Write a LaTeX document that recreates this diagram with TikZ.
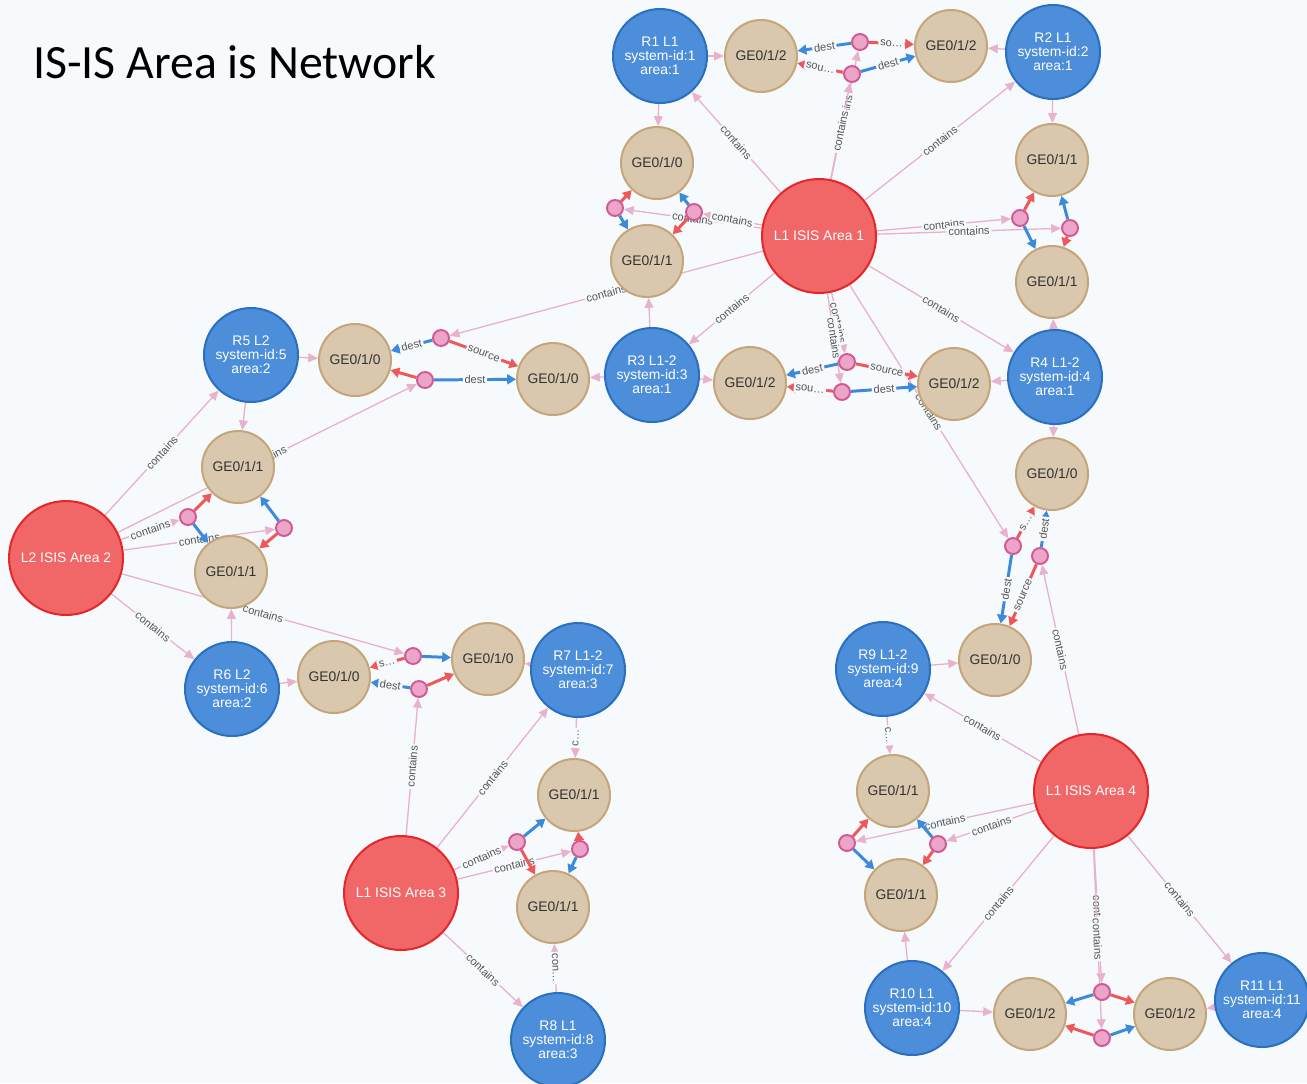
\documentclass[tikz,border=0pt]{standalone}
\usepackage{fontspec}
\usetikzlibrary{arrows.meta}
\newfontfamily\labelsans{Liberation Sans}
\newfontfamily\titlesans{Carlito}
\newcommand\nodetext{\labelsans\fontsize{7.9}{7.9}\selectfont}
\newcommand\edgetext{\labelsans\fontsize{6.3}{6.3}\selectfont}
\definecolor{canvas}{RGB}{247,250,253}
\definecolor{areaFill}{RGB}{241,102,103}
\definecolor{areaLine}{RGB}{226,40,43}
\definecolor{rtFill}{RGB}{76,142,218}
\definecolor{rtLine}{RGB}{42,111,192}
\definecolor{ptFill}{RGB}{217,200,174}
\definecolor{ptLine}{RGB}{196,166,122}
\definecolor{ptText}{RGB}{50,50,50}
\definecolor{lkFill}{RGB}{236,165,200}
\definecolor{lkLine}{RGB}{208,88,148}
\definecolor{relC}{RGB}{232,178,204}
\definecolor{srcC}{RGB}{238,88,88}
\definecolor{dstC}{RGB}{60,138,220}
\definecolor{labC}{RGB}{85,85,85}
\pgfdeclarelayer{back}
\pgfdeclarelayer{wires}
\pgfsetlayers{back,wires,main}
\tikzset{
  area/.style={circle, fill=areaFill, draw=areaLine, line width=1.15pt,
    minimum size=2.28cm, inner sep=0pt, text=white, font=\nodetext},
  router/.style={circle, fill=rtFill, draw=rtLine, line width=1.15pt,
    minimum size=1.88cm, inner sep=0pt, text=white, font=\nodetext, align=center},
  port/.style={circle, fill=ptFill, draw=ptLine, line width=1.15pt,
    minimum size=1.44cm, inner sep=0pt, text=ptText, font=\nodetext},
  link/.style={circle, fill=lkFill, draw=lkLine, line width=1.1pt,
    minimum size=0.32cm, inner sep=0pt},
  rel/.style={draw=relC, line width=0.75pt, -{Triangle[length=5.6pt,width=5pt]}},
  src/.style={draw=srcC, line width=1.7pt, -{Triangle[length=5pt,width=5.6pt]}},
  dst/.style={draw=dstC, line width=1.7pt, -{Triangle[length=5pt,width=5.6pt]}},
  elab/.style={font=\edgetext, text=labC, fill=canvas, inner sep=1pt, sloped}
}
\begin{document}
\begin{tikzpicture}[x=0.02cm, y=-0.02cm]
\begin{pgfonlayer}{back}
  \fill[canvas] (0,0) rectangle (1307,1083);
\end{pgfonlayer}
\useasboundingbox (0,0) rectangle (1307,1083);
\clip (0,0) rectangle (1307,1083);

\node[anchor=base west, inner sep=0pt, font=\titlesans\fontsize{27.2}{31}\selectfont] (title) at (33,78) {IS-IS Area is Network};

% areas
\node[area] (A1) at (819,236) {L1 ISIS Area 1};
\node[area] (A2) at (66,558) {L2 ISIS Area 2};
\node[area] (A3) at (401,893) {L1 ISIS Area 3};
\node[area] (A4) at (1091,791) {L1 ISIS Area 4};

% routers
\node[router] (R1) at (660,56) {R1 L1\\system-id:1\\area:1};
\node[router] (R2) at (1053,52) {R2 L1\\system-id:2\\area:1};
\node[router] (R3) at (652,375) {R3 L1-2\\system-id:3\\area:1};
\node[router] (R4) at (1055,377) {R4 L1-2\\system-id:4\\area:1};
\node[router] (R5) at (251,355) {R5 L2\\system-id:5\\area:2};
\node[router] (R6) at (232,689) {R6 L2\\system-id:6\\area:2};
\node[router] (R7) at (578,670) {R7 L1-2\\system-id:7\\area:3};
\node[router] (R8) at (558,1040) {R8 L1\\system-id:8\\area:3};
\node[router] (R9) at (883,669) {R9 L1-2\\system-id:9\\area:4};
\node[router] (R10) at (912,1008) {R10 L1\\system-id:10\\area:4};
\node[router] (R11) at (1262,1000) {R11 L1\\system-id:11\\area:4};

% interfaces
\node[port] (g1) at (761,56) {GE0/1/2};
\node[port] (g2) at (951,46) {GE0/1/2};
\node[port] (g3) at (657,163) {GE0/1/0};
\node[port] (g4) at (647,261) {GE0/1/1};
\node[port] (g5) at (1052,160) {GE0/1/1};
\node[port] (g6) at (1052,282) {GE0/1/1};
\node[port] (g7) at (750,383) {GE0/1/2};
\node[port] (g8) at (954,384) {GE0/1/2};
\node[port] (g9) at (1052,474) {GE0/1/0};
\node[port] (g10) at (553,379) {GE0/1/0};
\node[port] (g11) at (355,360) {GE0/1/0};
\node[port] (g12) at (238,467) {GE0/1/1};
\node[port] (g13) at (231,572) {GE0/1/1};
\node[port] (g14) at (334,677) {GE0/1/0};
\node[port] (g15) at (488,659) {GE0/1/0};
\node[port] (g16) at (574,795) {GE0/1/1};
\node[port] (g17) at (553,907) {GE0/1/1};
\node[port] (g18) at (995,660) {GE0/1/0};
\node[port] (g19) at (893,791) {GE0/1/1};
\node[port] (g20) at (901,895) {GE0/1/1};
\node[port] (g21) at (1030,1014) {GE0/1/2};
\node[port] (g22) at (1170,1014) {GE0/1/2};

% link nodes
\node[link] (p1a) at (860,42) {};
\node[link] (p1b) at (852,74) {};
\node[link] (p1c) at (615,208) {};
\node[link] (p1d) at (694,212) {};
\node[link] (p1e) at (1020,218) {};
\node[link] (p1f) at (1070,228) {};
\node[link] (p1g) at (847,362) {};
\node[link] (p1h) at (842,392) {};
\node[link] (p2a) at (441,338) {};
\node[link] (p2b) at (425,380) {};
\node[link] (p2c) at (188,517) {};
\node[link] (p2d) at (284,528) {};
\node[link] (p3a) at (413,656) {};
\node[link] (p3b) at (419,689) {};
\node[link] (p3c) at (517,842) {};
\node[link] (p3d) at (580,849) {};
\node[link] (p4a) at (1013,546) {};
\node[link] (p4b) at (1040,556) {};
\node[link] (p4c) at (847,843) {};
\node[link] (p4d) at (938,844) {};
\node[link] (p4e) at (1102,992) {};
\node[link] (p4f) at (1102,1038) {};

\begin{pgfonlayer}{wires}
% area membership
\draw[rel] (A1) -- node[elab]{contains} (R1);
\draw[rel] (A1) -- node[elab]{contains} (R2);
\draw[rel] (A1) -- node[elab]{contains} (R3);
\draw[rel] (A1) -- node[elab]{contains} (R4);
\draw[rel] (A1) -- node[elab]{contains} (p1a);
\draw[rel] (A1) -- node[elab]{contains} (p1b);
\draw[rel] (A1) -- node[elab]{contains} (p1c);
\draw[rel] (A1) -- node[elab]{contains} (p1d);
\draw[rel] (A1) -- node[elab]{contains} (p1e);
\draw[rel] (A1) -- node[elab]{contains} (p1f);
\draw[rel] (A1) -- node[elab]{contains} (p1g);
\draw[rel] (A1) -- node[elab]{contains} (p1h);
\draw[rel] (A1) -- node[elab]{contains} (p2a);
\draw[rel] (A1) -- node[elab]{contains} (p4a);

\draw[rel] (A2) -- node[elab]{contains} (R5);
\draw[rel] (A2) -- node[elab]{contains} (R6);
\draw[rel] (A2) -- node[elab]{contains} (p2b);
\draw[rel] (A2) -- node[elab]{contains} (p2c);
\draw[rel] (A2) -- node[elab]{contains} (p2d);
\draw[rel] (A2) -- node[elab]{contains} (p3a);

\draw[rel] (A3) -- node[elab]{contains} (R7);
\draw[rel] (A3) -- node[elab]{contains} (R8);
\draw[rel] (A3) -- node[elab]{contains} (p3b);
\draw[rel] (A3) -- node[elab]{contains} (p3c);
\draw[rel] (A3) -- node[elab]{contains} (p3d);

\draw[rel] (A4) -- node[elab]{contains} (R9);
\draw[rel] (A4) -- node[elab]{contains} (R10);
\draw[rel] (A4) -- node[elab]{contains} (R11);
\draw[rel] (A4) -- node[elab]{contains} (p4b);
\draw[rel] (A4) -- node[elab]{contains} (p4c);
\draw[rel] (A4) -- node[elab]{contains} (p4d);
\draw[rel] (A4) -- node[elab]{contains} (p4e);
\draw[rel] (A4) -- node[elab]{contains} (p4f);

% router interfaces
\draw[rel] (R1) -- (g1);
\draw[rel] (R1) -- (g3);
\draw[rel] (R2) -- (g2);
\draw[rel] (R2) -- (g5);
\draw[rel] (R3) -- (g4);
\draw[rel] (R3) -- (g7);
\draw[rel] (R3) -- (g10);
\draw[rel] (R4) -- (g6);
\draw[rel] (R4) -- (g8);
\draw[rel] (R4) -- (g9);
\draw[rel] (R5) -- (g11);
\draw[rel] (R5) -- (g12);
\draw[rel] (R6) -- (g13);
\draw[rel] (R6) -- (g14);
\draw[rel] (R7) -- (g15);
\draw[rel] (R7) -- node[elab]{c…} (g16);
\draw[rel] (R8) -- node[elab]{con…} (g17);
\draw[rel] (R9) -- (g18);
\draw[rel] (R9) -- node[elab]{c…} (g19);
\draw[rel] (R10) -- (g20);
\draw[rel] (R10) -- (g21);
\draw[rel] (R11) -- (g22);

% links: source and destination interfaces
\draw[dst] (p1a) -- node[elab]{dest} (g1);
\draw[src] (p1a) -- node[elab]{so…} (g2);
\draw[src] (p1b) -- node[elab]{sou…} (g1);
\draw[dst] (p1b) -- node[elab]{dest} (g2);

\draw[src] (p1c) -- (g3);
\draw[dst] (p1c) -- (g4);
\draw[dst] (p1d) -- (g3);
\draw[src] (p1d) -- (g4);

\draw[src] (p1e) -- (g5);
\draw[dst] (p1e) -- (g6);
\draw[dst] (p1f) -- (g5);
\draw[src] (p1f) -- (g6);

\draw[dst] (p1g) -- node[elab]{dest} (g7);
\draw[src] (p1g) -- node[elab]{source} (g8);
\draw[src] (p1h) -- node[elab]{sou…} (g7);
\draw[dst] (p1h) -- node[elab]{dest} (g8);

\draw[dst] (p2a) -- node[elab]{dest} (g11);
\draw[src] (p2a) -- node[elab]{source} (g10);
\draw[src] (p2b) -- (g11);
\draw[dst] (p2b) -- node[elab]{dest} (g10);

\draw[src] (p2c) -- (g12);
\draw[dst] (p2c) -- (g13);
\draw[dst] (p2d) -- (g12);
\draw[src] (p2d) -- (g13);

\draw[src] (p3a) -- node[elab]{s…} (g14);
\draw[dst] (p3a) -- (g15);
\draw[dst] (p3b) -- node[elab]{dest} (g14);
\draw[src] (p3b) -- (g15);

\draw[dst] (p3c) -- (g16);
\draw[src] (p3c) -- (g17);
\draw[src] (p3d) -- (g16);
\draw[dst] (p3d) -- (g17);

\draw[src] (p4a) -- node[elab]{s…} (g9);
\draw[dst] (p4a) -- node[elab]{dest} (g18);
\draw[dst] (p4b) -- node[elab]{dest} (g9);
\draw[src] (p4b) -- node[elab]{source} (g18);

\draw[src] (p4c) -- (g19);
\draw[dst] (p4c) -- (g20);
\draw[dst] (p4d) -- (g19);
\draw[src] (p4d) -- (g20);

\draw[dst] (p4e) -- (g21);
\draw[src] (p4e) -- (g22);
\draw[src] (p4f) -- (g21);
\draw[dst] (p4f) -- (g22);
\end{pgfonlayer}
\end{tikzpicture}
\end{document}
